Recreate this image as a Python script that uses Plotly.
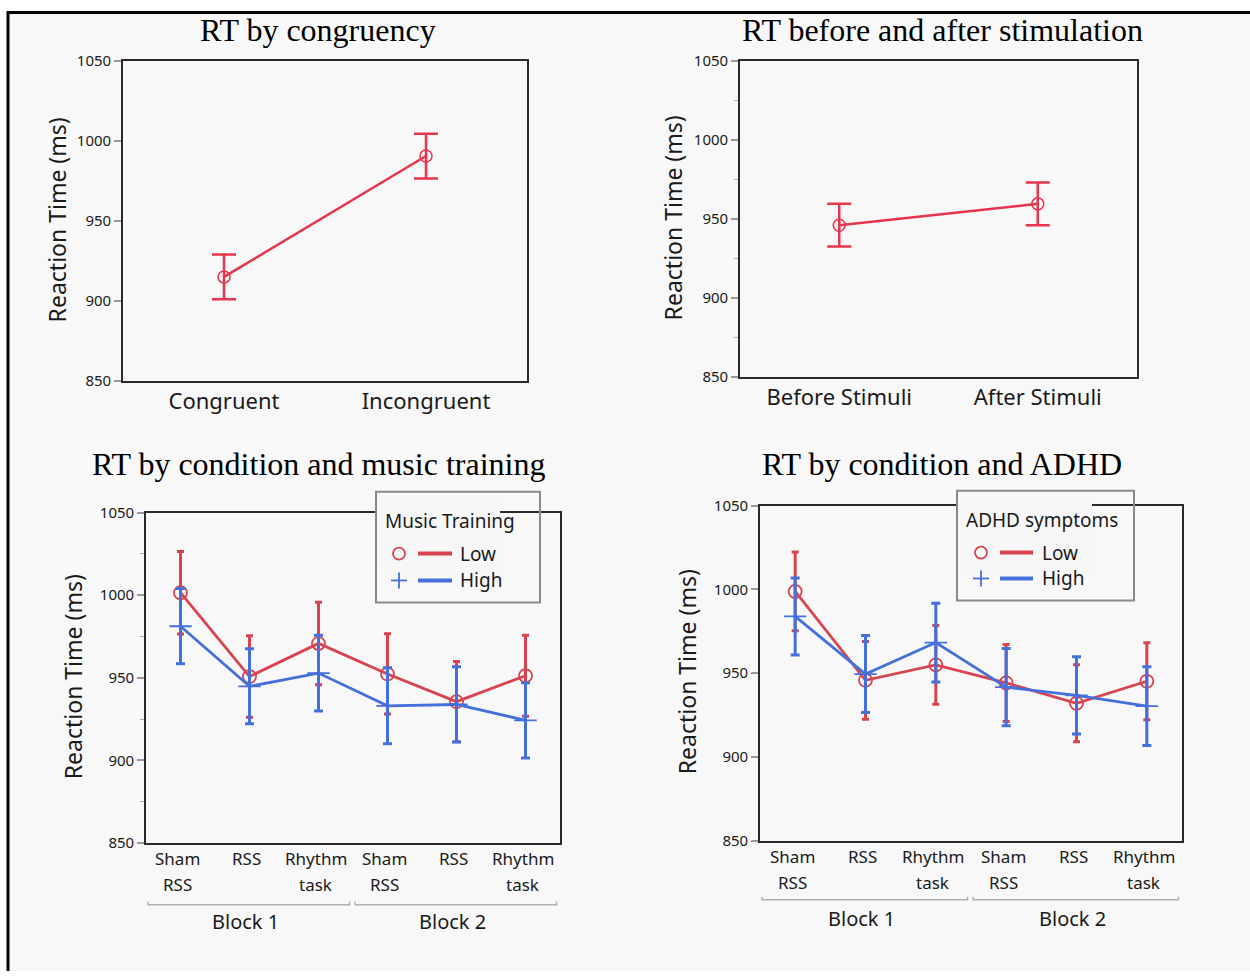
import plotly.graph_objects as go

W, H = 1250, 980

# ---------------- data ----------------
cong_labels = ["Congruent", "Incongruent"]
cong_mean = [915.0, 990.5]
cong_err = [14.0, 14.0]

stim_labels = ["Before Stimuli", "After Stimuli"]
stim_mean = [946.0, 959.5]
stim_err = [13.5, 13.5]

cond_labels = ["Sham RSS", "RSS", "Rhythm task", "Sham RSS", "RSS", "Rhythm task"]
block_labels = ["Block 1", "Block 2"]
block_members = [[0, 1, 2], [3, 4, 5]]

music_low_mean = [1001.5, 950.7, 970.8, 952.3, 935.5, 951.2]
music_low_err = [25.0, 24.7, 25.0, 24.3, 24.3, 24.5]
music_high_mean = [981.2, 944.8, 952.8, 933.0, 933.8, 924.2]
music_high_err = [22.8, 22.7, 23.0, 23.0, 22.8, 22.8]

adhd_low_mean = [998.8, 945.8, 955.0, 944.2, 932.1, 945.2]
adhd_low_err = [23.5, 23.2, 23.5, 23.0, 23.0, 23.0]
adhd_high_mean = [983.9, 949.5, 968.3, 941.7, 936.8, 930.4]
adhd_high_err = [23.0, 23.0, 23.5, 23.0, 23.0, 23.5]

group_labels = ["Low", "High"]
y_ticks = [850, 900, 950, 1000, 1050]
y_title = "Reaction Time (ms)"
titles = ["RT by congruency", "RT before and after stimulation",
          "RT by condition and music training", "RT by condition and ADHD"]
legend_titles = ["Music Training", "ADHD symptoms"]

# ---------------- styles ----------------
RED_TOP = "#e8344c"
RED = "#d8434f"
BLUE = "#4470db"
SANS = "Noto Sans"
SERIF = "Liberation Serif"
TXT = "#1a1a1a"

# the page renders the figure between these screen rows
Y_TOP, Y_SPAN = 9.1, 962.4


def px(x):
    return x / W


def py(y):
    v = 1 - (y - Y_TOP) / Y_SPAN
    return min(max(v, 0.0), 1.0)


# plot boxes in pixels: (left, top, right, bottom)
boxes = [(123, 59, 527, 380), (740, 59, 1137, 376), (146, 512, 560, 843), (760, 505, 1182, 841)]

fig = go.Figure()

# ---- top panels ----
fig.add_trace(go.Scatter(
    x=list(range(len(cong_labels))), y=cong_mean, mode="lines+markers",
    line=dict(color=RED_TOP, width=2.5),
    marker=dict(symbol="circle-open", size=12, color=RED_TOP, line=dict(width=1.5)),
    error_y=dict(type="data", array=cong_err, color=RED_TOP, thickness=2.5, width=12),
    xaxis="x", yaxis="y", showlegend=False))

fig.add_trace(go.Scatter(
    x=list(range(len(stim_labels))), y=stim_mean, mode="lines+markers",
    line=dict(color=RED_TOP, width=2.5),
    marker=dict(symbol="circle-open", size=12, color=RED_TOP, line=dict(width=1.5)),
    error_y=dict(type="data", array=stim_err, color=RED_TOP, thickness=2.5, width=12),
    xaxis="x2", yaxis="y2", showlegend=False))


# ---- bottom panels ----
def add_group(means, errs, color, symbol, size, xa, ya, ew):
    fig.add_trace(go.Scatter(
        x=list(range(len(cond_labels))), y=means, mode="lines+markers",
        line=dict(color=color, width=2.8),
        marker=dict(symbol=symbol, size=size, color=color, line=dict(width=1.8, color=color)),
        error_y=dict(type="data", array=errs, color=color, thickness=3, width=ew),
        xaxis=xa, yaxis=ya, showlegend=False))


add_group(music_low_mean, music_low_err, RED, "circle-open", 13, "x3", "y3", 3.5)
add_group(music_high_mean, music_high_err, BLUE, "cross-thin-open", 16, "x3", "y3", 4.5)
add_group(adhd_low_mean, adhd_low_err, RED, "circle-open", 13, "x4", "y4", 3.5)
add_group(adhd_high_mean, adhd_high_err, BLUE, "cross-thin-open", 16, "x4", "y4", 4.5)

layout = dict(
    width=W, height=H, margin=dict(l=0, r=0, t=0, b=0),
    paper_bgcolor="white", plot_bgcolor="white",
    font=dict(family=SANS, color=TXT),
)

ncat = [len(cong_labels), len(stim_labels), len(cond_labels), len(cond_labels)]
for i, (l, t, r, b) in enumerate(boxes):
    k = "" if i == 0 else str(i + 1)
    xa = dict(domain=[px(l), px(r)], anchor="y" + k, range=[-0.5, ncat[i] - 0.5],
              showline=True, mirror=True, linecolor="#2a2a2a", linewidth=1.6,
              showgrid=False, zeroline=False, ticks="", fixedrange=True)
    if i < 2:
        labs = cong_labels if i == 0 else stim_labels
        xa.update(tickvals=list(range(len(labs))), ticktext=labs,
                  tickfont=dict(size=22, family=SANS, color=TXT))
    else:
        xa.update(showticklabels=False)
    ya = dict(domain=[py(b), py(t)], anchor="x" + k, range=[850, 1050],
              tickvals=y_ticks, ticks="outside", ticklen=7, tickwidth=1.5, tickcolor="#9a9a9a",
              tickfont=dict(size=15, family=SANS, color=TXT),
              showline=True, mirror=True, linecolor="#2a2a2a", linewidth=1.6,
              showgrid=False, zeroline=False, fixedrange=True)
    if i in (1, 2):
        ya["minor"] = dict(tickvals=[875, 925, 975, 1025], ticks="outside", ticklen=4,
                           tickwidth=1.2, tickcolor="#b0b0b0")
    layout["xaxis" + k] = xa
    layout["yaxis" + k] = ya

shapes = []
annotations = []

# background area with border lines on top and left
shapes.append(dict(type="rect", xref="paper", yref="paper", x0=px(8), x1=1, y0=0, y1=py(8),
                   fillcolor="#f8f8f8", line=dict(width=0), layer="below"))
shapes.append(dict(type="line", xref="paper", yref="paper", x0=px(7), x1=1, y0=0.9985, y1=0.9985,
                   line=dict(color="black", width=3)))
shapes.append(dict(type="line", xref="paper", yref="paper", x0=px(8), x1=px(8), y0=0, y1=1,
                   line=dict(color="black", width=3)))

# titles
title_pos = [(318, 28), (942, 28), (318, 463), (942, 463)]
for txt, (x, y) in zip(titles, title_pos):
    annotations.append(dict(text=txt, x=px(x), y=py(y), xref="paper", yref="paper",
                            xanchor="center", yanchor="middle", showarrow=False,
                            font=dict(family=SERIF, size=32, color="black")))

# y-axis titles
ytitle_pos = [(57, 219), (673, 217), (73, 677), (687, 672)]
for (x, y) in ytitle_pos:
    annotations.append(dict(text=y_title, x=px(x), y=py(y), xref="paper", yref="paper",
                            xanchor="center", yanchor="middle", showarrow=False, textangle=-90,
                            font=dict(family=SANS, size=23, color=TXT)))

# category labels + block brackets for bottom panels
cat_rows = [(859, 885, 905, 922), (857, 883, 900, 919)]
for pi, xa in enumerate(["x3", "x4"]):
    r1, r2, by, bl = cat_rows[pi]
    for ci, lab in enumerate(cond_labels):
        parts = lab.split(" ")
        for li, part in enumerate(parts):
            annotations.append(dict(text=part, x=ci, xref=xa, y=py(r1 if li == 0 else r2), yref="paper",
                                    xanchor="center", yanchor="middle", showarrow=False, xshift=-3,
                                    font=dict(family=SANS, size=17, color=TXT)))
    for bi, (bname, mem) in enumerate(zip(block_labels, block_members)):
        x0 = mem[0] - 0.47
        x1 = mem[-1] + 0.45
        shapes.append(dict(type="path", xref=xa, yref="paper",
                           path=f"M {x0},{py(by - 3)} L {x0},{py(by)} L {x1},{py(by)} L {x1},{py(by - 3)}",
                           line=dict(color="#b0b0b0", width=1.5)))
        annotations.append(dict(text=bname, x=sum(mem) / len(mem), xref=xa, y=py(bl), yref="paper",
                                xanchor="center", yanchor="middle", showarrow=False, xshift=-4,
                                font=dict(family=SANS, size=20, color=TXT)))

# manual legends
legend_specs = [
    dict(box=(376, 491, 540, 602), fill=(500, 575), title=(383, 520), rows=(553, 580),
         mx=399, lx=(418, 452), tx=458, name=legend_titles[0]),
    dict(box=(957, 490, 1134, 600), fill=(1092, 573), title=(964, 519), rows=(552, 578),
         mx=981, lx=(1000, 1033), tx=1040, name=legend_titles[1]),
]
for spec in legend_specs:
    l, t, r, b = spec["box"]
    fr, fb = spec["fill"]
    shapes.append(dict(type="rect", xref="paper", yref="paper", x0=px(l), x1=px(fr), y0=py(fb), y1=py(t),
                       fillcolor="#f7f7f7", line=dict(width=0)))
    shapes.append(dict(type="rect", xref="paper", yref="paper", x0=px(l), x1=px(r), y0=py(b), y1=py(t),
                       fillcolor="rgba(0,0,0,0)", line=dict(color="#8a8a8a", width=2)))
    annotations.append(dict(text=spec["name"], x=px(spec["title"][0]), y=py(spec["title"][1]),
                            xref="paper", yref="paper", xanchor="left", yanchor="middle",
                            showarrow=False, font=dict(family=SANS, size=19, color=TXT)))
    ylow, yhigh = spec["rows"]
    mx = spec["mx"]
    shapes.append(dict(type="circle", xref="paper", yref="paper", x0=px(mx - 6), x1=px(mx + 6),
                       y0=py(ylow + 6), y1=py(ylow - 6), line=dict(color=RED, width=1.8)))
    shapes.append(dict(type="line", xref="paper", yref="paper", x0=px(mx - 8), x1=px(mx + 8),
                       y0=py(yhigh), y1=py(yhigh), line=dict(color=BLUE, width=1.8)))
    shapes.append(dict(type="line", xref="paper", yref="paper", x0=px(mx), x1=px(mx),
                       y0=py(yhigh + 8), y1=py(yhigh - 8), line=dict(color=BLUE, width=1.8)))
    for yy, col, name in [(ylow, RED, group_labels[0]), (yhigh, BLUE, group_labels[1])]:
        shapes.append(dict(type="line", xref="paper", yref="paper", x0=px(spec["lx"][0]), x1=px(spec["lx"][1]),
                           y0=py(yy), y1=py(yy), line=dict(color=col, width=4)))
        annotations.append(dict(text=name, x=px(spec["tx"]), y=py(yy), xref="paper", yref="paper",
                                xanchor="left", yanchor="middle", showarrow=False,
                                font=dict(family=SANS, size=19, color=TXT)))

layout["shapes"] = shapes
layout["annotations"] = annotations
fig.update_layout(**layout)
fig.write_html("out.html")
